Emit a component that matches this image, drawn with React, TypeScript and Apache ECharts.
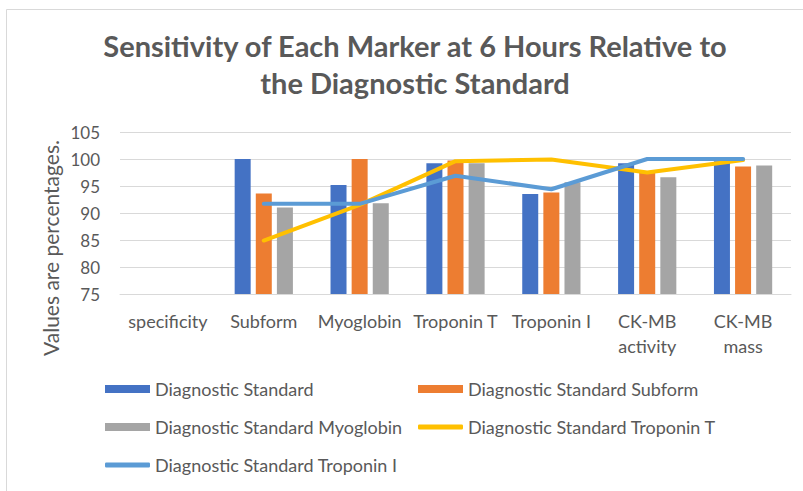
import React, { useEffect, useRef } from "react";
import * as echarts from "echarts";

const categories = ["specificity", "Subform", "Myoglobin", "Troponin T", "Troponin I", "CK-MB\nactivity", "CK-MB\nmass"];
const diagnosticStandard = [null, 100, 95.2, 99.2, 93.5, 99.2, 99.6];
const dsSubform = [null, 93.6, 100, 99.7, 93.8, 97.5, 98.6];
const dsMyoglobin = [null, 91.0, 91.8, 99.2, 95.7, 96.6, 98.8];
const dsTroponinT = [null, 84.9, 91.5, 99.6, 99.9, 97.5, 99.8];
const dsTroponinI = [null, 91.7, 91.7, 96.9, 94.4, 100, 100];
const yTicks = { min: 75, max: 105, interval: 5 };

const FONT = "Lato";
const TXT = "#595959";

export default function App() {
  const ref = useRef<HTMLDivElement>(null);
  useEffect(() => {
    if (!ref.current) return;
    const chart = echarts.init(ref.current, null, { renderer: "svg" });
    const barSeries = (name: string, data: any[], color: string) => ({
      name,
      type: "bar",
      data,
      barWidth: 16,
      barGap: "32%",
      itemStyle: { color },
      emphasis: { disabled: true },
    });
    const lineSeries = (name: string, data: any[], color: string) => ({
      name,
      type: "line",
      data,
      symbol: "none",
      lineStyle: { color, width: 4, cap: "round", join: "round" },
      itemStyle: { color },
      emphasis: { disabled: true },
      z: 5,
    });
    const legendText = { color: TXT, fontSize: 18, fontFamily: FONT };
    const mkLegend = (name: string, left: number, top: number, isLine: boolean) => ({
      data: [isLine ? { name, icon: "roundRect" } : { name, icon: "rect" }],
      left,
      top,
      padding: 0,
      itemWidth: 45,
      itemHeight: isLine ? 5 : 8,
      itemGap: 6,
      textStyle: legendText,
      selectedMode: false,
    });
    chart.setOption({
      animation: false,
      textStyle: { fontFamily: FONT },
      title: {
        text: "Sensitivity of Each Marker at 6 Hours Relative to\nthe Diagnostic Standard",
        left: 410,
        textAlign: "center",
        top: 22,
        textStyle: { color: TXT, fontSize: 29, fontWeight: "bold", fontFamily: FONT, lineHeight: 37 },
      },
      graphic: [
        {
          type: "rect",
          shape: { x: 6.5, y: 9.5, width: 900, height: 700 },
          style: { fill: "none", stroke: "#d9d9d9", lineWidth: 1 },
          silent: true,
        },
        {
          type: "text",
          x: 50,
          y: 248,
          rotation: Math.PI / 2,
          style: {
            text: "Values are percentages.",
            fill: TXT,
            fontSize: 21,
            fontFamily: FONT,
            textAlign: "center",
            textVerticalAlign: "middle",
          },
          silent: true,
        },
      ],
      legend: [
        mkLegend("Diagnostic Standard", 105, 380, false),
        mkLegend("Diagnostic Standard Subform", 418, 380, false),
        mkLegend("Diagnostic Standard Myoglobin", 105, 418, false),
        mkLegend("Diagnostic Standard Troponin T", 418, 418, true),
        mkLegend("Diagnostic Standard Troponin I", 105, 456, true),
      ],
      grid: { left: 120, right: 12, top: 132, bottom: 197 },
      xAxis: {
        type: "category",
        data: categories,
        axisTick: { show: false },
        axisLine: { lineStyle: { color: "#d9d9d9" } },
        axisLabel: { color: TXT, fontSize: 18, fontFamily: FONT, margin: 14, lineHeight: 25, interval: 0 },
      },
      yAxis: {
        type: "value",
        min: yTicks.min,
        max: yTicks.max,
        interval: yTicks.interval,
        axisLine: { show: false },
        axisTick: { show: false },
        splitLine: { lineStyle: { color: "#d9d9d9", width: 1 } },
        axisLabel: { color: TXT, fontSize: 17, fontFamily: FONT, margin: 20 },
      },
      series: [
        barSeries("Diagnostic Standard", diagnosticStandard, "#4472C4"),
        barSeries("Diagnostic Standard Subform", dsSubform, "#ED7D31"),
        barSeries("Diagnostic Standard Myoglobin", dsMyoglobin, "#A5A5A5"),
        lineSeries("Diagnostic Standard Troponin T", dsTroponinT, "#FFC000"),
        lineSeries("Diagnostic Standard Troponin I", dsTroponinI, "#5B9BD5"),
      ],
    });
    return () => chart.dispose();
  }, []);
  return <div ref={ref} style={{ position: "fixed", left: 0, top: 0, width: 803, height: 491, background: "#fff" }} />;
}
